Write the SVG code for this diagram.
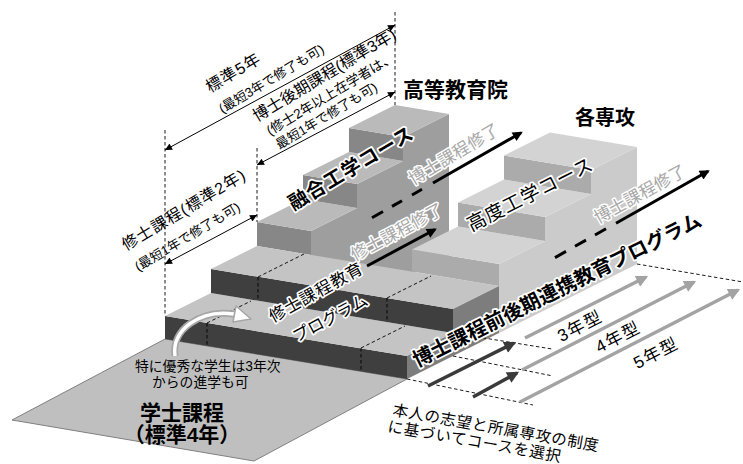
<svg xmlns="http://www.w3.org/2000/svg" width="743" height="464" viewBox="0 0 743 464">
<defs>
<style>
text{font-family:"Liberation Sans","Noto Sans CJK JP",sans-serif;fill:#000;}
.b{font-weight:bold;}
.halo{paint-order:stroke;stroke:#fff;stroke-width:3.5px;stroke-linejoin:round;}
.gt{fill:#a8a8a8;paint-order:stroke;stroke:#fff;stroke-width:3px;stroke-linejoin:round;font-size:17px;}
.dl{fill:none;stroke:#000;stroke-width:0.9;stroke-dasharray:3.5 2.5;}
.dim{fill:none;stroke:#000;stroke-width:1;marker-start:url(#ah);marker-end:url(#ah);}
.thk{fill:none;stroke:#000;stroke-width:3;}
.lt{fill:#c4c4c4}.lf{fill:#3f3f3f}.ls{fill:#7d7d7d}
.ft{fill:#bababa}.ff{fill:#878787}.fs{fill:#9e9e9e}
.at{fill:#d3d3d3}.af{fill:#ababab}.as{fill:#cbcbcb}
</style>
<marker id="ah" viewBox="0 0 10 10" refX="10" refY="5" markerUnits="userSpaceOnUse" markerWidth="9" markerHeight="7" orient="auto-start-reverse"><path d="M0,0L10,5L0,10z"/></marker>
<marker id="ak" viewBox="0 0 10 10" refX="8" refY="5" markerUnits="userSpaceOnUse" markerWidth="13" markerHeight="10" orient="auto"><path d="M0,0L10,5L0,10z"/></marker>
<marker id="ad" viewBox="0 0 10 10" refX="8" refY="5" markerUnits="userSpaceOnUse" markerWidth="15" markerHeight="12" orient="auto"><path d="M0,0L10,5L0,10z" fill="#3a3a3a"/></marker>
<marker id="ag" viewBox="0 0 10 10" refX="8" refY="5" markerUnits="userSpaceOnUse" markerWidth="15" markerHeight="12" orient="auto"><path d="M0,0L10,5L0,10z" fill="#a3a3a3"/></marker>
</defs>

<g id="bachelor">
<polygon points="12,420 165,339 407,379 254,461" fill="#bfbfbf" stroke="#808080" stroke-width="1"/>
<text class="b" font-size="21" x="182" y="420" text-anchor="middle">学士課程</text>
<text class="b" font-size="21" x="182" y="442" text-anchor="middle">（標準4年）</text>
</g>

<g id="fusion-course">
<polygon class="fs" points="311,254.9 311,230.9 357,207.9 357,183.9 403,160.9 403,136.9 449,113.9 449,262.9 311,301.9"/>
<polygon class="ff" points="257,246 311,254.9 311,230.9 257,222"/>
<polygon class="ft" points="257,222 311,230.9 357,207.9 303,199"/>
<polygon class="ff" points="303,199 357,207.9 357,183.9 303,175"/>
<polygon class="ft" points="303,175 357,183.9 403,160.9 349,152"/>
<polygon class="ff" points="349,152 403,160.9 403,136.9 349,128"/>
<polygon class="ft" points="349,128 403,136.9 449,113.9 395,105"/>
<text class="b halo" font-size="19.5" letter-spacing="1" text-anchor="middle" transform="translate(351,168) rotate(-31)" y="7">融合工学コース</text>
<text class="b" font-size="21" x="403" y="97">高等教育院</text>
</g>

<g id="master-program">
<polygon class="lf" points="165,339 407,378.9 407,355.9 165,316"/>
<polygon class="lt" points="165,316 407,355.9 453,332.9 211,293"/>
<polygon class="ls" points="407,378.9 453,355.9 453,332.9 407,355.9"/>
<polygon class="lf" points="211,293 453,332.9 453,308.9 211,269"/>
<polygon class="lt" points="211,269 453,308.9 499,285.9 257,246"/>
<polygon class="ls" points="453,355.9 499,332.9 499,285.9 453,308.9"/>
<path class="dl" d="M207,323V346M207,323L251,301M258,277V301M258,277L304,254M361,348V371M361,348L405,326M387,298V321M387,298L431,276"/>
<text class="halo" font-size="16.5" letter-spacing="1" text-anchor="middle" transform="translate(316,292) rotate(-29)" y="6">修士課程教育</text>
<text class="halo" font-size="16.5" text-anchor="middle" transform="translate(330,318) rotate(-28)" y="6">プログラム</text>
</g>

<g id="advanced-course">
<polygon class="as" points="499,332.9 499,263.9 545,240.9 545,216.9 591,193.9 591,169.9 637,146.9 637,263.9"/>
<polygon class="af" points="412,271.6 499,285.9 499,263.9 412,249.6"/>
<polygon class="at" points="412,249.6 499,263.9 545,240.9 458,226.6"/>
<polygon class="af" points="458,226.6 545,240.9 545,216.9 458,202.6"/>
<polygon class="at" points="458,202.6 545,216.9 591,193.9 504,179.6"/>
<polygon class="af" points="504,179.6 591,193.9 591,169.9 504,155.6"/>
<polygon class="at" points="504,155.6 591,169.9 637,146.9 550,132.6"/>
<text class="halo" font-size="19" letter-spacing="1" text-anchor="middle" transform="translate(530,194) rotate(-27)" y="7">高度工学コース</text>
<text class="b" font-size="20" x="575" y="125">各専攻</text>
</g>

<g id="connectors">
<line class="dl" x1="165" y1="130" x2="165" y2="316"/>
<line class="dl" x1="257" y1="148" x2="257" y2="222"/>
<line class="dl" x1="395" y1="12" x2="395" y2="105"/>
<line class="dim" x1="165" y1="150" x2="395" y2="25"/>
<line class="dim" x1="257" y1="165" x2="395" y2="92"/>
<line class="dim" x1="165" y1="264" x2="257" y2="215"/>
<g transform="translate(210,93) rotate(-31)">
<text font-size="16" letter-spacing="1">標準5年</text>
<text font-size="13" x="0" y="24">(最短3年で修了も可)</text>
</g>
<g transform="translate(257,122) rotate(-31)">
<text font-size="16">博士後期課程(標準3年)</text>
<text font-size="13.5" x="4" y="18.5">(修士2年以上在学者は、</text>
<text font-size="13" x="5" y="35">最短1年で修了も可)</text>
</g>
<g transform="translate(126,251) rotate(-31)">
<text font-size="16" letter-spacing="1">修士課程(標準2年)</text>
<text font-size="13" x="0" y="24">(最短1年で修了も可)</text>
</g>

<path class="thk" d="M372,217.8L383,211.5M392,206.4L402,200.7M412,195L422,189.3"/>
<line class="thk" x1="433" y1="183" x2="521" y2="132.8" marker-end="url(#ak)"/>
<line class="thk" x1="367" y1="266" x2="435" y2="229.5" marker-end="url(#ak)"/>
<path class="thk" d="M555,257.6L566,251.4M575,246.3L586,240.1M595,235L606,228.8"/>
<line class="thk" x1="616" y1="223.2" x2="708" y2="171.2" marker-end="url(#ak)"/>
<text class="gt" text-anchor="middle" transform="translate(454,154) rotate(-31)" y="6">博士課程修了</text>
<text class="gt" text-anchor="middle" transform="translate(397,232) rotate(-28)" y="6">修士課程修了</text>
<text class="gt" text-anchor="middle" transform="translate(640,194) rotate(-29)" y="6">博士課程修了</text>

<line class="dl" x1="453" y1="333" x2="552" y2="349"/>
<line class="dl" x1="453" y1="356" x2="553" y2="376"/>
<line class="dl" x1="407" y1="379" x2="533" y2="405"/>
<line class="dl" x1="637" y1="264" x2="743" y2="282"/>
<line x1="428" y1="386" x2="514" y2="343" stroke="#3a3a3a" stroke-width="3.5" marker-end="url(#ad)"/>
<line x1="473" y1="397" x2="517" y2="373" stroke="#3a3a3a" stroke-width="3.5" marker-end="url(#ad)"/>
<line x1="525" y1="338" x2="646" y2="277" stroke="#a3a3a3" stroke-width="3.5" marker-end="url(#ag)"/>
<line x1="522" y1="370" x2="694" y2="282" stroke="#a3a3a3" stroke-width="3.5" marker-end="url(#ag)"/>
<line x1="520" y1="402" x2="738" y2="290" stroke="#a3a3a3" stroke-width="3.5" marker-end="url(#ag)"/>

<path d="M175,356C171,330 200,309 234,314" fill="none" stroke="#a6a6a6" stroke-width="7"/>
<path d="M175,356C171,330 200,309 234,314" fill="none" stroke="#fff" stroke-width="3.5"/>
<polygon points="236,306 251,319 233,322" fill="#fff" stroke="#a6a6a6" stroke-width="1.5" stroke-linejoin="round"/>
<text font-size="13.8" x="135" y="371">特に優秀な学生は3年次</text>
<text font-size="13.8" x="152" y="387">からの進学も可</text>
</g>

<g id="labels">
<text class="b halo" font-size="20" text-anchor="middle" transform="translate(557,290) rotate(-26.5)" y="7">博士課程前後期連携教育プログラム</text>
<text font-size="17" letter-spacing="1.5" text-anchor="middle" transform="translate(580,326) rotate(-27)" y="6">3年型</text>
<text font-size="17" letter-spacing="1.5" text-anchor="middle" transform="translate(618,337) rotate(-27)" y="6">4年型</text>
<text font-size="17" letter-spacing="1.5" text-anchor="middle" transform="translate(656,353) rotate(-27)" y="6">5年型</text>
<g transform="translate(392,415) rotate(10)">
<text font-size="15.5" letter-spacing="0.6">本人の志望と所属専攻の制度</text>
<text font-size="15.5" letter-spacing="0.6" x="-2" y="17">に基づいてコースを選択</text>
</g>
</g>
</svg>
